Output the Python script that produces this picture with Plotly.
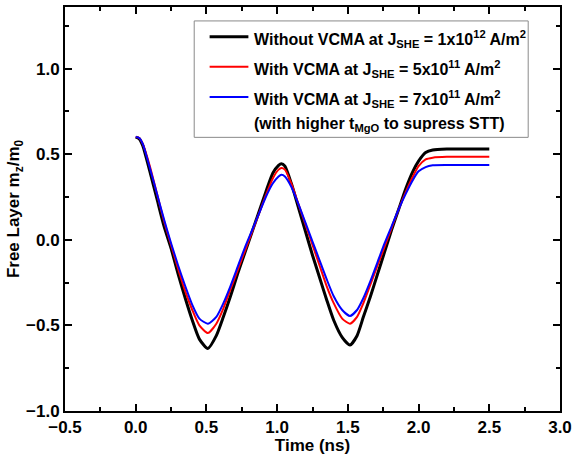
import plotly.graph_objects as go

# Time axis (ns)
time_ns = [0.0, 0.025, 0.05, 0.1, 0.15, 0.2, 0.25, 0.3, 0.35, 0.4, 0.45, 0.51,
           0.57, 0.62, 0.67, 0.72, 0.77, 0.82, 0.87, 0.92, 0.97, 1.01, 1.03, 1.055,
           1.1, 1.15, 1.2, 1.25, 1.3, 1.35, 1.4, 1.46, 1.515, 1.565, 1.61, 1.66,
           1.71, 1.76, 1.81, 1.86, 1.91, 1.96, 2.0, 2.05, 2.1, 2.2, 2.3, 2.4, 2.5]

# Normalised free-layer magnetisation m_z/m_0
mz_no_vcma = [0.60, 0.59, 0.55, 0.40, 0.24, 0.08, -0.05, -0.20, -0.34, -0.47, -0.58, -0.635,
              -0.56, -0.45, -0.33, -0.20, -0.08, 0.04, 0.16, 0.28, 0.39, 0.435, 0.445, 0.43,
              0.33, 0.19, 0.05, -0.09, -0.22, -0.35, -0.47, -0.57, -0.615, -0.56, -0.45, -0.33,
              -0.20, -0.07, 0.06, 0.18, 0.30, 0.40, 0.46, 0.51, 0.525, 0.53, 0.53, 0.53, 0.53]

mz_vcma_5e11 = [0.60, 0.595, 0.56, 0.43, 0.27, 0.11, -0.03, -0.17, -0.30, -0.41, -0.50, -0.545,
                -0.49, -0.40, -0.29, -0.18, -0.07, 0.04, 0.15, 0.26, 0.36, 0.41, 0.42, 0.41,
                0.33, 0.21, 0.09, -0.03, -0.15, -0.27, -0.37, -0.46, -0.49, -0.45, -0.37, -0.26,
                -0.15, -0.04, 0.07, 0.18, 0.28, 0.37, 0.43, 0.47, 0.48, 0.485, 0.485, 0.485, 0.485]

mz_vcma_7e11 = [0.60, 0.595, 0.56, 0.42, 0.27, 0.12, -0.02, -0.15, -0.27, -0.38, -0.46, -0.49,
                -0.45, -0.37, -0.27, -0.16, -0.05, 0.05, 0.15, 0.25, 0.33, 0.37, 0.38, 0.37,
                0.31, 0.21, 0.10, -0.01, -0.12, -0.23, -0.33, -0.41, -0.445, -0.41, -0.34, -0.24,
                -0.13, -0.02, 0.08, 0.18, 0.27, 0.35, 0.40, 0.425, 0.435, 0.437, 0.437, 0.437, 0.437]

series_names = [
    "Without VCMA at J<sub>SHE</sub> = 1x10<sup>12</sup> A/m<sup>2</sup>",
    "With VCMA at J<sub>SHE</sub> = 5x10<sup>11</sup> A/m<sup>2</sup>",
    "With VCMA at J<sub>SHE</sub> = 7x10<sup>11</sup> A/m<sup>2</sup>",
]
note_text = "(with higher t<sub>MgO</sub> to supress STT)"
series_colors = ["#000000", "#ff0000", "#0000ff"]
series_widths = [3, 2, 2]

font_family = "Liberation Sans, Arial, sans-serif"

fig = go.Figure()
for y, name, color, width in zip([mz_no_vcma, mz_vcma_5e11, mz_vcma_7e11],
                                 series_names, series_colors, series_widths):
    fig.add_trace(go.Scatter(x=time_ns, y=y, mode="lines", name=name, showlegend=False,
                             line=dict(color=color, width=width, shape="spline", smoothing=0.6)))

axis_common = dict(
    showline=True, linecolor="black", linewidth=2, mirror="allticks",
    ticks="inside", ticklen=7, tickwidth=2, tickcolor="black",
    showgrid=False, zeroline=False,
    tickfont=dict(family=font_family, size=17, color="black", weight="bold"),
    minor=dict(ticks="inside", ticklen=4, tickwidth=2, tickcolor="black", showgrid=False),
)

fig.update_xaxes(range=[-0.5, 3.0], dtick=0.5, tick0=0, tickformat=".1f",
                 minor_dtick=0.25,
                 title=dict(text="Time (ns)", standoff=0,
                            font=dict(family=font_family, size=17, color="black", weight="bold")),
                 **axis_common)
fig.update_yaxes(range=[-1.0, 1.36], dtick=0.5, tick0=0, tickformat=".1f",
                 minor_dtick=0.25,
                 title=dict(text="Free Layer m<sub>z</sub>/m<sub>0</sub>", standoff=2,
                            font=dict(family=font_family, size=17, color="black", weight="bold")),
                 **axis_common)

# Legend box drawn in paper coordinates (pixel layout of the plot area below)
W, H = 577, 455
ML, MR, MT, MB = 65, 14, 5, 44
PW, PH = W - ML - MR, H - MT - MB


def px(xp):
    return (xp - ML) / PW


def py(yp):
    return (H - MB - yp) / PH


shapes = [dict(type="rect", xref="paper", yref="paper",
               x0=px(195), x1=px(531), y0=py(136), y1=py(19),
               line=dict(color="#8a8a8a", width=1), fillcolor="white", layer="above")]
annotations = []
row_y = [35, 65, 95.5, 121]
for i, (name, color, width) in enumerate(zip(series_names, series_colors, series_widths)):
    shapes.append(dict(type="line", xref="paper", yref="paper",
                       x0=px(210.5), x1=px(249.5), y0=py(row_y[i]), y1=py(row_y[i]),
                       line=dict(color=color, width=width), layer="above"))
for i, text in enumerate(series_names + [note_text]):
    annotations.append(dict(xref="paper", yref="paper", x=px(253), y=py(row_y[i] + 2),
                            xanchor="left", yanchor="middle", showarrow=False, text=text,
                            font=dict(family=font_family, size=16, color="black", weight="bold")))

fig.update_layout(
    width=W, height=H,
    margin=dict(l=ML, r=MR, t=MT, b=MB),
    paper_bgcolor="white", plot_bgcolor="white",
    showlegend=False,
    shapes=shapes,
    annotations=annotations,
)

fig.write_html("out.html")
